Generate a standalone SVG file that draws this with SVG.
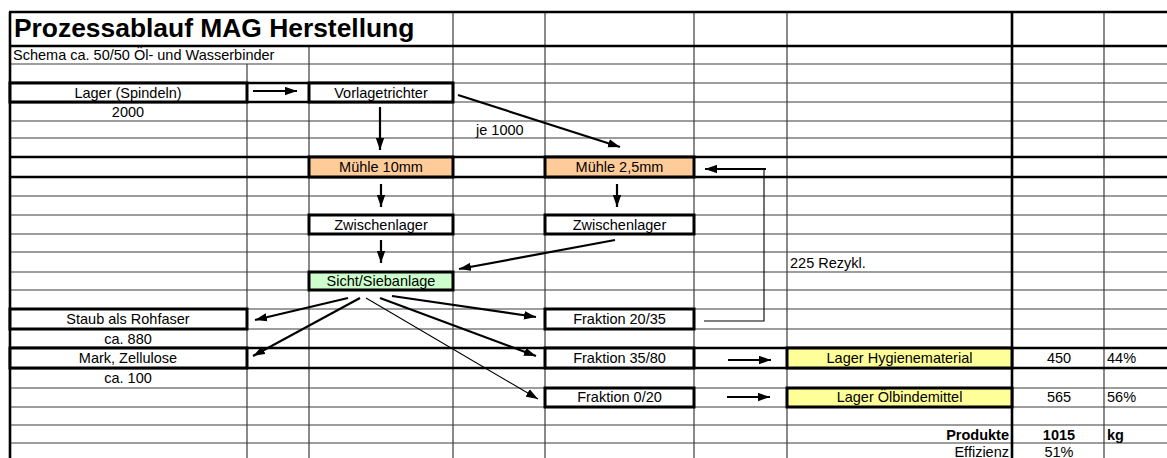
<svg xmlns="http://www.w3.org/2000/svg" width="1167" height="458" viewBox="0 0 1167 458">
  <style>
    .grid { stroke: #3c3c3c; stroke-width: 1.2; fill: none; }
    .heavy { stroke: #000; stroke-width: 2.6; fill: none; }
    .box { stroke: #000; stroke-width: 3; fill: #fff; }
    .mill { fill: #FFCC99; }
    .screen { fill: #CCFFCC; }
    .store { fill: #FFFF99; }
    .t { font-family: "Liberation Sans", Arial, sans-serif; font-size: 14.5px; fill: #000; }
    .c { text-anchor: middle; }
    .r { text-anchor: end; }
    .b { font-weight: bold; }
    .title { font-family: "Liberation Sans", Arial, sans-serif; font-size: 26.4px; font-weight: bold; fill: #000; }
    .arrow { stroke: #000; stroke-width: 2.2; fill: none; marker-end: url(#head); }
    .arrow-thin { stroke: #000; stroke-width: 1.1; fill: none; marker-end: url(#head); }
    .line-thin { stroke: #000; stroke-width: 1.1; fill: none; }
  </style>
  <defs>
    <marker id="head" markerUnits="userSpaceOnUse" markerWidth="13" markerHeight="9" refX="12" refY="4.5" orient="auto">
      <path d="M0,0.3 L12,4.5 L0,8.7 z" fill="#000"/>
    </marker>
  </defs>

  <rect width="1167" height="458" fill="#fff"/>

  <!-- spreadsheet grid -->
  <g id="grid">
    <!-- row lines -->
    <path class="grid" d="M10,64H1167 M10,121H1167 M10,138H1167 M10,196H1167 M10,215H1167 M10,234H1167 M10,252H1167 M10,272H1167 M10,290H1167 M10,309H1167 M10,329H1167 M10,388H1167 M10,407H1167 M10,425H1167 M10,443H1167 M453,83H1167 M453,102H1167"/>
    <!-- column lines -->
    <path class="grid" d="M247,64V458 M309,46V458 M453,12V458 M545,12V458 M694,12V458 M787,12V458 M1104,12V458"/>
    <!-- heavy borders -->
    <path class="heavy" d="M9,12H1167 M10,46H1167 M10,157H1167 M10,177H1167 M10,348H1167 M10,368H1167 M10,83H453 M10,102H453 M10,12V458 M1012,12V458"/>
  </g>

  <!-- headings -->
  <g id="heading">
    <text class="title" x="14" y="37">Prozessablauf MAG Herstellung</text>
    <text class="t" x="13" y="60">Schema ca. 50/50 Öl- und Wasserbinder</text>
  </g>

  <!-- process nodes -->
  <g id="lager-spindeln">
    <rect class="box" x="10" y="83" width="237" height="19"/>
    <text class="t c" x="128" y="98">Lager (Spindeln)</text>
    <text class="t c" x="128" y="117">2000</text>
  </g>
  <g id="vorlagetrichter">
    <rect class="box" x="309" y="83" width="144" height="19"/>
    <text class="t c" x="381" y="98">Vorlagetrichter</text>
  </g>
  <g id="label-je-1000">
    <text class="t" x="476" y="135">je 1000</text>
  </g>
  <g id="muehle-10">
    <rect class="box mill" x="309" y="157" width="144" height="20"/>
    <text class="t c" x="381" y="172">Mühle 10mm</text>
  </g>
  <g id="muehle-2-5">
    <rect class="box mill" x="545" y="157" width="149" height="20"/>
    <text class="t c" x="619.5" y="172">Mühle 2,5mm</text>
  </g>
  <g id="zwischenlager-1">
    <rect class="box" x="309" y="215" width="144" height="19"/>
    <text class="t c" x="381" y="230">Zwischenlager</text>
  </g>
  <g id="zwischenlager-2">
    <rect class="box" x="545" y="215" width="149" height="19"/>
    <text class="t c" x="619.5" y="230">Zwischenlager</text>
  </g>
  <g id="label-rezykl">
    <text class="t" x="790" y="268">225 Rezykl.</text>
  </g>
  <g id="sichtanlage">
    <rect class="box screen" x="309" y="272" width="144" height="18"/>
    <text class="t c" x="381" y="286">Sicht/Siebanlage</text>
  </g>
  <g id="staub">
    <rect class="box" x="10" y="309" width="237" height="20"/>
    <text class="t c" x="128" y="324">Staub als Rohfaser</text>
    <text class="t c" x="128" y="344">ca. 880</text>
  </g>
  <g id="mark">
    <rect class="box" x="10" y="348" width="237" height="20"/>
    <text class="t c" x="128" y="363">Mark, Zellulose</text>
    <text class="t c" x="128" y="383">ca. 100</text>
  </g>
  <g id="fraktion-20-35">
    <rect class="box" x="545" y="309" width="149" height="20"/>
    <text class="t c" x="619.5" y="324">Fraktion 20/35</text>
  </g>
  <g id="fraktion-35-80">
    <rect class="box" x="545" y="348" width="149" height="20"/>
    <text class="t c" x="619.5" y="363">Fraktion 35/80</text>
  </g>
  <g id="fraktion-0-20">
    <rect class="box" x="545" y="388" width="149" height="19"/>
    <text class="t c" x="619.5" y="402">Fraktion 0/20</text>
  </g>
  <g id="lager-hygiene">
    <rect class="box store" x="787" y="348" width="225" height="20"/>
    <text class="t c" x="899.5" y="363">Lager Hygienematerial</text>
    <text class="t c" x="1059" y="363">450</text>
    <text class="t" x="1107" y="363">44%</text>
  </g>
  <g id="lager-oel">
    <rect class="box store" x="787" y="388" width="225" height="19"/>
    <text class="t c" x="899.5" y="402">Lager Ölbindemittel</text>
    <text class="t c" x="1059" y="402">565</text>
    <text class="t" x="1107" y="402">56%</text>
  </g>
  <g id="summary">
    <text class="t r b" x="1009" y="440">Produkte</text>
    <text class="t c b" x="1059" y="440">1015</text>
    <text class="t b" x="1107" y="440">kg</text>
    <text class="t r" x="1009" y="457">Effizienz</text>
    <text class="t c" x="1059" y="457">51%</text>
  </g>

  <!-- material flow -->
  <g id="connectors">
    <line class="arrow" x1="253" y1="91" x2="297" y2="91"/>
    <line class="arrow" x1="380" y1="107" x2="380" y2="150"/>
    <line class="arrow" x1="458" y1="95" x2="620" y2="147"/>
    <line class="arrow" x1="381" y1="184" x2="381" y2="207"/>
    <line class="arrow" x1="617" y1="184" x2="617" y2="207"/>
    <line class="arrow" x1="381" y1="240" x2="381" y2="263"/>
    <line class="arrow" x1="615" y1="240" x2="459" y2="269"/>
    <!-- recycle loop from Fraktion 20/35 back to Mühle 2,5mm -->
    <polyline class="line-thin" points="704,321 764,321 764,169"/>
    <line class="arrow" x1="766" y1="169" x2="705" y2="169"/>
    <!-- outputs of the screening plant -->
    <line class="arrow" x1="348" y1="298" x2="255" y2="320"/>
    <line class="arrow" x1="360" y1="298" x2="253" y2="356"/>
    <line class="arrow-thin" x1="366" y1="298" x2="538" y2="399"/>
    <line class="arrow" x1="380" y1="298" x2="536" y2="356"/>
    <line class="arrow" x1="392" y1="296" x2="536" y2="317"/>
    <!-- to the product stores -->
    <line class="arrow" x1="728" y1="360" x2="771" y2="360"/>
    <line class="arrow" x1="727" y1="397" x2="770" y2="397"/>
  </g>
</svg>
